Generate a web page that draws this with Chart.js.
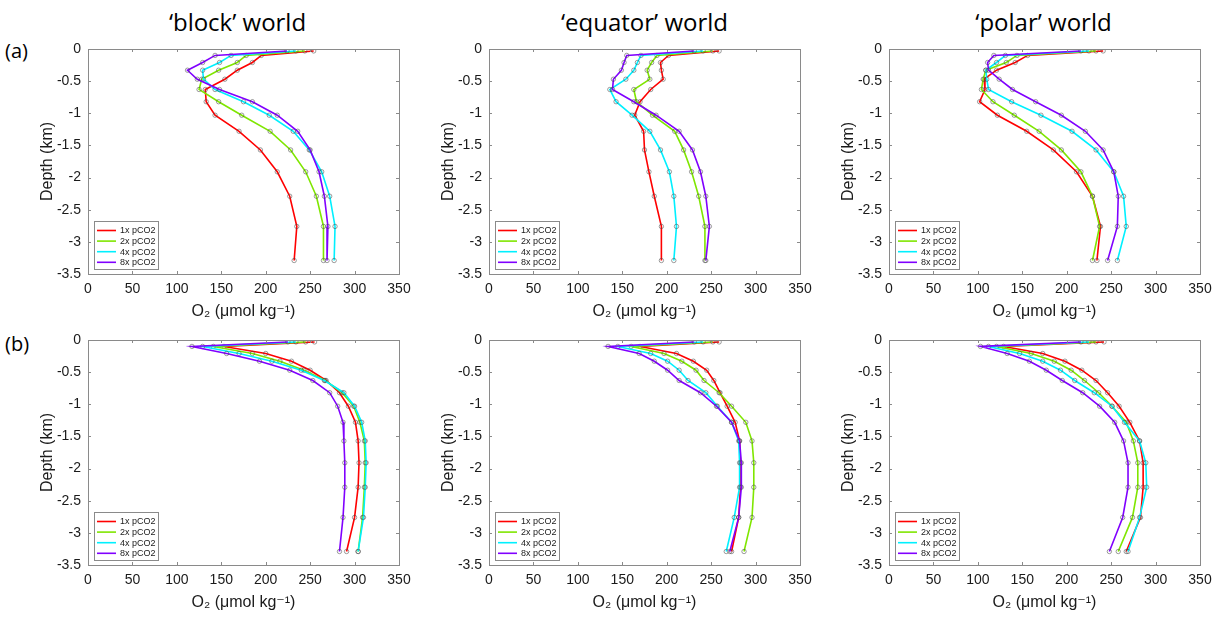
<!DOCTYPE html>
<html>
<head>
<meta charset="utf-8">
<script src="https://cdn.jsdelivr.net/npm/chart.js@4.4.1/dist/chart.umd.min.js"></script>
<style>
    body { margin: 0; background: #fff; width: 1215px; height: 617px; position: relative; overflow: hidden; }
    .title { position: absolute; top: 7px; width: 311px; text-align: center; font-family: 'Open Sans', Lato, sans-serif; font-size: 24px; line-height: 30px; color: #000; }
    .tag { position: absolute; left: 5px; font-family: 'Open Sans', Lato, sans-serif; font-size: 20px; line-height: 24px; color: #000; }
    canvas { position: absolute; }
</style>
</head>
<body>
<div class="title" style="left:82px">‘block’ world</div>
<div class="title" style="left:489px">‘equator’ world</div>
<div class="title" style="left:888px">‘polar’ world</div>
<div class="tag" style="top:39px">(a)</div>
<div class="tag" style="top:332px">(b)</div>

<canvas id="c-block-a" width="389" height="285" style="left:26px;top:37px"></canvas>
<canvas id="c-equator-a" width="389" height="285" style="left:427px;top:37px"></canvas>
<canvas id="c-polar-a" width="389" height="285" style="left:827px;top:37px"></canvas>
<canvas id="c-block-b" width="389" height="285" style="left:26px;top:328px"></canvas>
<canvas id="c-equator-b" width="389" height="285" style="left:427px;top:328px"></canvas>
<canvas id="c-polar-b" width="389" height="285" style="left:827px;top:328px"></canvas>

<script>
// model depth levels (km) and axis ticks
const depth = [-0.03, -0.10, -0.21, -0.33, -0.47, -0.63, -0.82, -1.03, -1.28, -1.57, -1.91, -2.29, -2.76, -3.29];
const xTicks = [0, 50, 100, 150, 200, 250, 300, 350];
const yTicks = [0, -0.5, -1, -1.5, -2, -2.5, -3, -3.5];
const seriesLabels = ['1x pCO2', '2x pCO2', '4x pCO2', '8x pCO2'];
const seriesColors = ['#ff0000', '#7fe600', '#00f0ff', '#8000ff'];

// (a) O2 profiles
const blockA_1x = [254, 195, 185, 168, 154, 132, 133, 143, 170, 194, 213, 227, 235, 232];
const blockA_2x = [244, 178, 168, 147, 128, 125, 147, 173, 205, 228, 245, 257, 265, 265];
const blockA_4x = [234, 161, 148, 129, 130, 143, 175, 204, 231, 249, 263, 272, 278, 277];
const blockA_8x = [224, 143, 129, 112, 123, 148, 185, 213, 236, 250, 260, 266, 270, 269];

const equatorA_1x = [259, 202, 193, 194, 196, 182, 170, 164, 174, 175, 180, 186, 194, 194];
const equatorA_2x = [252, 189, 183, 178, 181, 163, 166, 184, 209, 219, 228, 236, 243, 243];
const equatorA_4x = [241, 171, 167, 163, 154, 136, 143, 161, 181, 193, 203, 208, 211, 208];
const equatorA_8x = [231, 155, 152, 149, 140, 139, 163, 188, 214, 229, 238, 244, 248, 244];

const polarA_1x = [241, 156, 142, 121, 107, 108, 102, 122, 155, 185, 211, 229, 238, 234];
const polarA_2x = [233, 144, 132, 109, 106, 104, 117, 141, 169, 194, 216, 229, 237, 229];
const polarA_4x = [225, 131, 121, 109, 110, 112, 138, 171, 206, 233, 253, 264, 267, 257];
const polarA_8x = [216, 118, 111, 112, 124, 139, 165, 194, 221, 241, 253, 258, 257, 246];

// (b) O2 profiles
const blockB_1x = [255, 153, 200, 229, 250, 268, 283, 293, 301, 304, 305, 304, 300, 291];
const blockB_2x = [245, 141, 185, 216, 243, 267, 286, 299, 306, 311, 312, 311, 309, 304];
const blockB_4x = [234, 129, 170, 207, 240, 266, 288, 300, 308, 312, 313, 312, 310, 304];
const blockB_8x = [225, 117, 156, 193, 227, 253, 272, 281, 287, 288, 289, 289, 287, 283];

const equatorB_1x = [259, 170, 211, 230, 245, 253, 260, 268, 277, 282, 283, 283, 281, 273];
const equatorB_2x = [252, 160, 197, 217, 233, 242, 259, 273, 289, 296, 298, 298, 296, 287];
const equatorB_4x = [241, 145, 182, 201, 214, 224, 244, 257, 273, 281, 282, 282, 276, 267];
const equatorB_8x = [231, 134, 169, 186, 201, 214, 238, 256, 273, 282, 284, 284, 281, 271];

const polarB_1x = [242, 129, 173, 198, 217, 233, 246, 259, 271, 282, 286, 286, 283, 267];
const polarB_2x = [233, 121, 160, 186, 205, 220, 236, 251, 267, 275, 280, 280, 274, 258];
const polarB_4x = [225, 112, 147, 173, 193, 209, 231, 251, 265, 282, 289, 290, 282, 269];
const polarB_8x = [216, 103, 133, 158, 177, 195, 218, 237, 254, 264, 269, 269, 263, 248];

Chart.defaults.font.family = '"Liberation Sans", Arial, "DejaVu Sans", sans-serif';
Chart.defaults.color = '#1a1a1a';

// matlab-style box, inward ticks and legend in the lower-left corner
const matlabBox = {
    id: 'matlabBox',
    afterDraw(chart) {
        const { ctx, chartArea: a, scales } = chart;
        const len = 3;
        ctx.save();
        ctx.strokeStyle = '#8a8a8a';
        ctx.lineWidth = 1;
        ctx.strokeRect(a.left + 0.5, a.top + 0.5, a.width, a.height);

        ctx.beginPath();
        scales.x.ticks.forEach(t => {
            const px = Math.round(scales.x.getPixelForValue(t.value)) + 0.5;
            ctx.moveTo(px, a.bottom); ctx.lineTo(px, a.bottom - len);
            ctx.moveTo(px, a.top); ctx.lineTo(px, a.top + len);
        });
        scales.y.ticks.forEach(t => {
            const py = Math.round(scales.y.getPixelForValue(t.value)) + 0.5;
            ctx.moveTo(a.left, py); ctx.lineTo(a.left + len, py);
            ctx.moveTo(a.right, py); ctx.lineTo(a.right - len, py);
        });
        ctx.stroke();

        // legend
        const bx = a.left + 6, bw = 64, bh = 48;
        const by = a.bottom - 5 - bh;
        ctx.fillStyle = '#fff';
        ctx.fillRect(bx, by, bw, bh);
        ctx.strokeStyle = '#8a8a8a';
        ctx.strokeRect(bx + 0.5, by + 0.5, bw, bh);
        ctx.font = '9px "Liberation Sans", Arial, sans-serif';
        ctx.textBaseline = 'middle';
        chart.data.datasets.forEach((ds, i) => {
            const y = by + 9.5 + i * 10.6;
            ctx.strokeStyle = ds.borderColor;
            ctx.lineWidth = 1.6;
            ctx.beginPath();
            ctx.moveTo(bx + 3, y); ctx.lineTo(bx + 22, y);
            ctx.stroke();
            ctx.fillStyle = '#1a1a1a';
            ctx.fillText(ds.label, bx + 26, y + 0.5);
        });
        ctx.restore();
    }
};

function makePanel(id, profiles) {
    const ctx = document.getElementById(id).getContext('2d');
    return new Chart(ctx, {
        type: 'scatter',
        data: {
            datasets: profiles.map((vals, i) => ({
                label: seriesLabels[i],
                data: vals.map((v, k) => ({ x: v, y: depth[k] })),
                showLine: true,
                borderColor: seriesColors[i],
                borderWidth: 1.6,
                tension: 0,
                pointRadius: 2.2,
                pointBorderWidth: 0.7,
                pointBorderColor: 'rgba(70,70,70,0.75)',
                pointBackgroundColor: 'rgba(0,0,0,0)',
                order: 4 - i
            }))
        },
        options: {
            responsive: false,
            animation: false,
            devicePixelRatio: 1,
            events: [],
            layout: { padding: { left: 0, top: 12, right: 16, bottom: 0 } },
            plugins: {
                legend: { display: false },
                tooltip: { enabled: false }
            },
            scales: {
                x: {
                    type: 'linear',
                    min: 0,
                    max: 350,
                    grid: { display: false, drawTicks: false },
                    border: { display: false },
                    afterBuildTicks: s => { s.ticks = xTicks.map(v => ({ value: v })); },
                    afterFit: s => { s.height = 48; s.paddingLeft = 0; s.paddingRight = 0; },
                    ticks: {
                        padding: 7,
                        autoSkip: false,
                        maxRotation: 0,
                        font: { size: 14 },
                        callback: v => String(v)
                    },
                    title: {
                        display: true,
                        text: 'O₂ (μmol kg⁻¹)',
                        font: { size: 16 },
                        padding: { top: 0, bottom: 1 }
                    }
                },
                y: {
                    type: 'linear',
                    min: -3.5,
                    max: 0,
                    grid: { display: false, drawTicks: false },
                    border: { display: false },
                    afterBuildTicks: s => { s.ticks = yTicks.map(v => ({ value: v })); },
                    afterFit: s => { s.width = 62; s.paddingTop = 0; s.paddingBottom = 0; },
                    ticks: {
                        padding: 7,
                        autoSkip: false,
                        font: { size: 14 },
                        callback: v => String(v)
                    },
                    title: {
                        display: true,
                        text: 'Depth (km)',
                        font: { size: 16 },
                        padding: { top: 12, bottom: 0 }
                    }
                }
            }
        },
        plugins: [matlabBox]
    });
}

makePanel('c-block-a', [blockA_1x, blockA_2x, blockA_4x, blockA_8x]);
makePanel('c-equator-a', [equatorA_1x, equatorA_2x, equatorA_4x, equatorA_8x]);
makePanel('c-polar-a', [polarA_1x, polarA_2x, polarA_4x, polarA_8x]);
makePanel('c-block-b', [blockB_1x, blockB_2x, blockB_4x, blockB_8x]);
makePanel('c-equator-b', [equatorB_1x, equatorB_2x, equatorB_4x, equatorB_8x]);
makePanel('c-polar-b', [polarB_1x, polarB_2x, polarB_4x, polarB_8x]);
</script>
</body>
</html>
